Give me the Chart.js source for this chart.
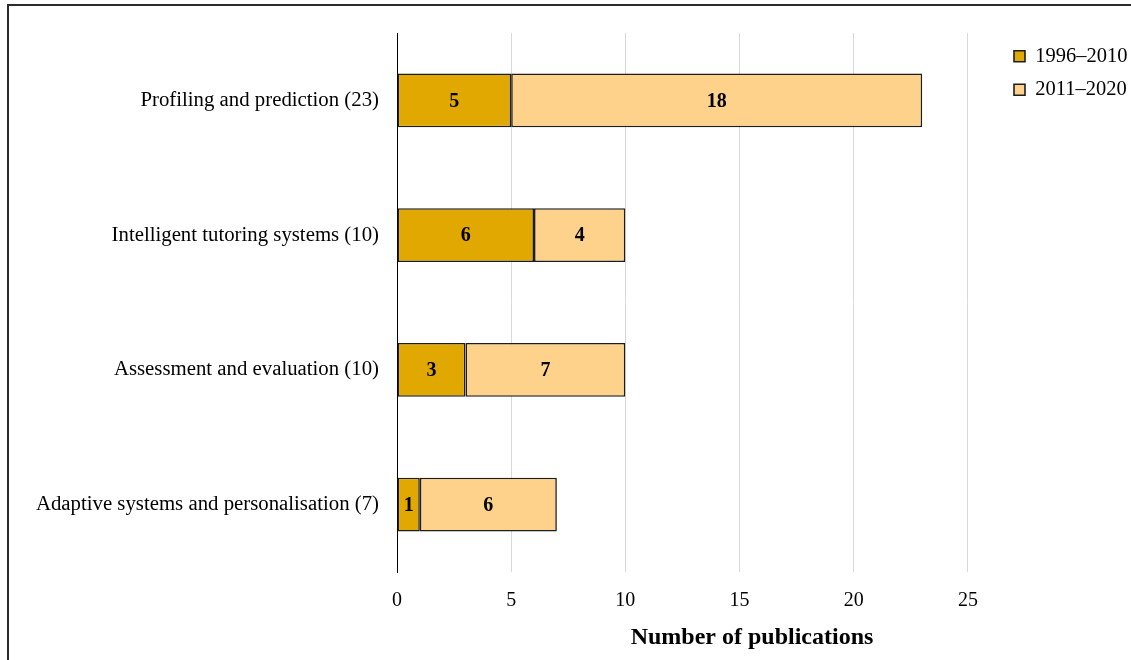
<!DOCTYPE html>
<html lang="en">
<head>
  <meta charset="UTF-8" />
  <title>Publications by topic</title>
  <style>
    html, body { margin: 0; padding: 0; background: #fff; overflow: hidden; }
    #wrap { position: relative; width: 1131px; height: 660px; }
    #frame { position: absolute; left: 7px; top: 4px; width: 1200px; height: 700px; border: 2px solid #2b2b2b; pointer-events: none; }
    canvas { position: absolute; left: 0; top: 0; }
  </style>
  <script src="https://cdn.jsdelivr.net/npm/chart.js"></script>
</head>
<body>
  <div id="wrap">
    <canvas id="pubChart" width="1131" height="660"></canvas>
    <div id="frame"></div>
  </div>

  <script>
    const categories = [
      'Profiling and prediction (23)',
      'Intelligent tutoring systems (10)',
      'Assessment and evaluation (10)',
      'Adaptive systems and personalisation (7)'
    ];
    const early = [5, 6, 3, 1];      // 1996–2010
    const recent = [18, 4, 7, 6];    // 2011–2020
    const xTicks = [0, 5, 10, 15, 20, 25];

    const serif = "'Liberation Serif', 'Times New Roman', serif";

    // labels in the middle of every segment
    const segmentLabels = {
      id: 'segmentLabels',
      afterDatasetsDraw(chart) {
        const c = chart.ctx;
        c.save();
        c.font = `bold 20px ${serif}`;
        c.fillStyle = '#000';
        c.textAlign = 'center';
        c.textBaseline = 'middle';
        chart.data.datasets.forEach((ds, di) => {
          chart.getDatasetMeta(di).data.forEach((bar, i) => {
            const mid = (bar.x + bar.base) / 2;
            c.fillText(String(ds.data[i]), mid, bar.y + 1);
          });
        });
        c.restore();
      }
    };

    // axis title, centred under plot + legend column
    const axisTitle = {
      id: 'axisTitle',
      afterDraw(chart) {
        const c = chart.ctx;
        const a = chart.chartArea;
        c.save();
        c.font = `bold 24px ${serif}`;
        c.fillStyle = '#000';
        c.textAlign = 'center';
        c.textBaseline = 'middle';
        c.fillText('Number of publications', (a.left + chart.width - 24) / 2, a.bottom + 66);
        c.restore();
      }
    };

    new Chart(document.getElementById('pubChart'), {
      type: 'bar',
      data: {
        labels: categories,
        datasets: [
          { label: '1996–2010', data: early, backgroundColor: '#e0a800', borderColor: '#1e1e1e', borderWidth: 1.6, borderSkipped: false, barPercentage: 0.4, categoryPercentage: 1 },
          { label: '2011–2020', data: recent, backgroundColor: '#fed28a', borderColor: '#1e1e1e', borderWidth: 1.6, borderSkipped: false, barPercentage: 0.4, categoryPercentage: 1 }
        ]
      },
      options: {
        indexAxis: 'y',
        responsive: false,
        animation: false,
        layout: { padding: { top: 33, left: 36, right: 0, bottom: 30 } },
        plugins: {
          tooltip: { enabled: false },
          legend: {
            position: 'right',
            align: 'start',
            maxWidth: 130,
            labels: {
              color: '#000',
              font: { family: serif, size: 20.5 },
              boxWidth: 11,
              boxHeight: 11,
              padding: 13
            }
          }
        },
        scales: {
          x: {
            stacked: true,
            min: 0,
            max: 26.45,
            afterBuildTicks(scale) { scale.ticks = xTicks.map(v => ({ value: v })); },
            ticks: { color: '#000', font: { family: serif, size: 20 }, padding: 17 },
            grid: { color: '#d9d9d9', lineWidth: 1, drawTicks: false },
            border: { display: false }
          },
          y: {
            stacked: true,
            afterFit(scale) { scale.width = 361; },
            ticks: { color: '#000', font: { family: serif, size: 20.8 }, padding: 18 },
            grid: { display: false, drawTicks: false },
            border: { display: true, color: '#000', width: 1 }
          }
        }
      },
      plugins: [segmentLabels, axisTitle]
    });
  </script>
</body>
</html>
